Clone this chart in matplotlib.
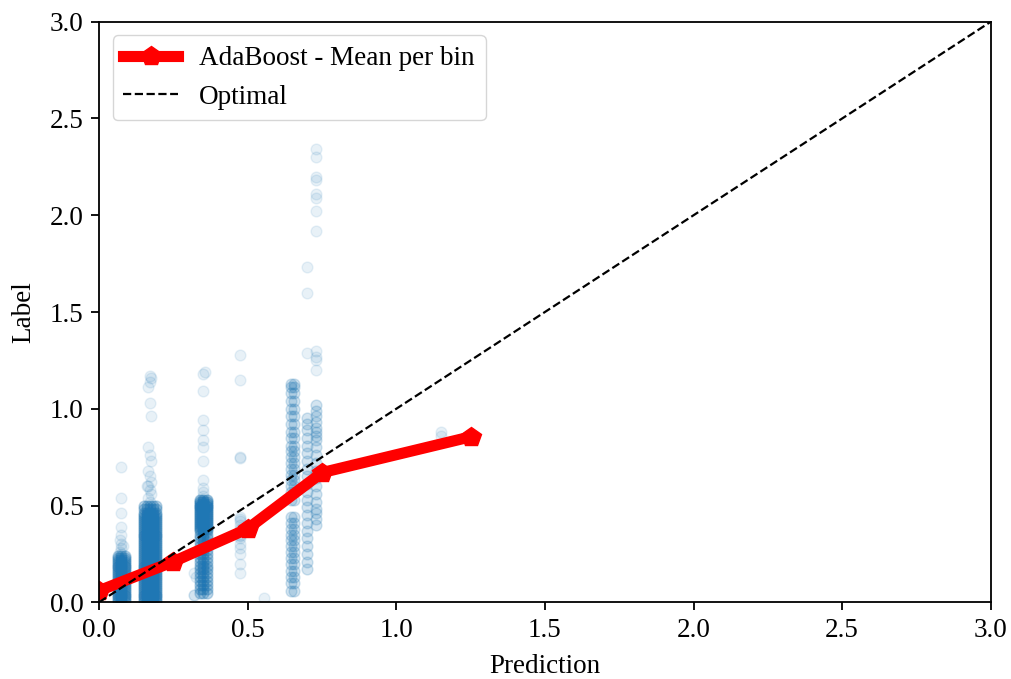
import numpy as np
import matplotlib
matplotlib.use("Agg")
import matplotlib.pyplot as plt

plt.rcParams['font.family'] = ['Liberation Serif', 'DejaVu Serif']

# ---- Data ----
# Mean per bin (red line)
bin_pred = [0.0, 0.25, 0.50, 0.75, 1.25]
bin_label = [0.06, 0.21, 0.38, 0.67, 0.855]

# Scatter columns: prediction values (x), label values (y), and how many
# samples share each (x, y) pair (rep)
col_a_x = [0.062, 0.075, 0.088]
col_a_y = [0.00, 0.01, 0.02, 0.03, 0.04, 0.05, 0.06, 0.07, 0.08, 0.09, 0.10,
           0.11, 0.12, 0.13, 0.14, 0.15, 0.16, 0.17, 0.18, 0.19, 0.20, 0.21,
           0.22, 0.23, 0.24]
col_a_rep = 3
col_a_sparse_x = [0.075, 0.07, 0.075, 0.08, 0.075, 0.07, 0.075, 0.075, 0.075, 0.075, 0.075]
col_a_sparse_y = [0.25, 0.26, 0.28, 0.29, 0.30, 0.32, 0.35, 0.39, 0.46, 0.54, 0.70]

col_b_x = [0.152, 0.162, 0.172, 0.182, 0.192]
col_b_y = [0.00, 0.01, 0.02, 0.03, 0.04, 0.05, 0.06, 0.07, 0.08, 0.09, 0.10,
           0.11, 0.12, 0.13, 0.14, 0.15, 0.16, 0.17, 0.18, 0.19, 0.20, 0.21,
           0.22, 0.23, 0.24, 0.25, 0.26, 0.27, 0.28, 0.29, 0.30, 0.31, 0.32,
           0.33, 0.34, 0.35, 0.36, 0.37, 0.38, 0.39, 0.40, 0.41, 0.42, 0.43,
           0.44, 0.45, 0.46, 0.48, 0.50]
col_b_rep = 3
col_b_sparse_x = [0.17, 0.165, 0.175, 0.17, 0.165, 0.175, 0.17, 0.165, 0.175,
                  0.17, 0.165, 0.175, 0.17, 0.165, 0.17, 0.175, 0.17, 0.16]
col_b_sparse_y = [0.52, 0.54, 0.56, 0.58, 0.60, 0.62, 0.65, 0.68, 0.73,
                  0.76, 0.80, 0.96, 1.03, 1.11, 1.14, 1.16, 1.17, 0.60]

col_c_x = [0.338, 0.35, 0.362]
col_c_y = [0.05, 0.07, 0.09, 0.11, 0.13, 0.15, 0.17, 0.19, 0.21, 0.23, 0.25,
           0.27, 0.29, 0.31, 0.33, 0.35, 0.37]
col_c_rep = 3
col_c_top_y = [0.38, 0.39, 0.40, 0.41, 0.42, 0.43, 0.44, 0.45, 0.46, 0.47,
               0.48, 0.49, 0.50, 0.51, 0.52, 0.53]
col_c_top_rep = 4
col_c_sparse_x = [0.35, 0.35, 0.35, 0.35, 0.35, 0.35, 0.35, 0.35, 0.35,
                  0.355, 0.32, 0.32, 0.325, 0.32, 0.35, 0.35]
col_c_sparse_y = [0.59, 0.63, 0.73, 0.80, 0.84, 0.89, 0.94, 1.09, 1.18,
                  1.19, 0.15, 0.04, 0.13, 0.04, 0.55, 0.57]

col_d_x = [0.475] * 18 + [0.555]
col_d_y = [0.15, 0.25, 0.28, 0.30, 0.33, 0.34, 0.35, 0.37, 0.38, 0.40, 0.42,
           0.43, 0.44, 0.745, 0.75, 1.15, 1.28, 0.20, 0.02]

col_e_x = [0.645, 0.655]
col_e_y = [0.06, 0.10, 0.13, 0.16, 0.20, 0.23, 0.26, 0.29, 0.32, 0.35, 0.38,
           0.41, 0.44, 0.53, 0.57, 0.60, 0.63, 0.66, 0.69, 0.72, 0.75, 0.78,
           0.81, 0.85, 0.88, 0.92, 0.96, 1.00, 1.04, 1.08, 1.11, 1.13]
col_e_rep = 2

col_f1_x = [0.70]
col_f1_y = [0.17, 0.21, 0.25, 0.29, 0.33, 0.37, 0.41, 0.45, 0.49, 0.53,
            0.57, 0.61, 0.65, 0.69, 0.73, 0.77, 0.81, 0.85, 0.89, 0.92, 0.95]
col_f1_rep = 2
col_f2_x = [0.73]
col_f2_y = [0.40, 0.43, 0.46, 0.48, 0.52, 0.56, 0.60, 0.64, 0.68, 0.72,
            0.76, 0.80, 0.84, 0.86, 0.88, 0.90, 0.93, 0.96, 0.99, 1.02]
col_f2_rep = 2
col_f_sparse_x = [0.70, 0.70, 0.70, 0.73, 0.73, 0.73, 0.73, 0.73, 0.73, 0.73,
                  0.73, 0.73, 0.73, 0.73, 0.73]
col_f_sparse_y = [1.29, 1.60, 1.73, 1.20, 1.25, 1.27, 1.30, 1.92, 2.02, 2.09,
                  2.11, 2.18, 2.20, 2.30, 2.34]

far_x = [1.15, 1.15]
far_y = [0.88, 0.86]

# ---- Build scatter table ----
def grid(xs, ys, rep=1):
    gx = np.repeat(np.asarray(xs, float), len(ys))
    gy = np.tile(np.asarray(ys, float), len(xs))
    return np.tile(gx, rep), np.tile(gy, rep)

def pts(xs, ys):
    return np.asarray(xs, float), np.asarray(ys, float)

parts = [grid(col_a_x, col_a_y, col_a_rep), pts(col_a_sparse_x, col_a_sparse_y),
         grid(col_b_x, col_b_y, col_b_rep), pts(col_b_sparse_x, col_b_sparse_y),
         grid(col_c_x, col_c_y, col_c_rep), grid(col_c_x, col_c_top_y, col_c_top_rep),
         pts(col_c_sparse_x, col_c_sparse_y),
         pts(col_d_x, col_d_y),
         grid(col_e_x, col_e_y, col_e_rep),
         grid(col_f1_x, col_f1_y, col_f1_rep), grid(col_f2_x, col_f2_y, col_f2_rep),
         pts(col_f_sparse_x, col_f_sparse_y),
         pts(far_x, far_y)]
sx = np.concatenate([p[0] for p in parts])
sy = np.concatenate([p[1] for p in parts])

# ---- Plot ----
fig = plt.figure(figsize=(10.11, 6.79), dpi=100)
ax = fig.add_axes([0.098, 0.113, 0.882, 0.855])

ax.scatter(sx, sy, s=60, color='#1f77b4', alpha=0.1)
ax.plot(bin_pred, bin_label, color='red', linewidth=8, marker='p',
        markersize=15, label='AdaBoost - Mean per bin')
ax.plot([0, 3], [0, 3], 'k--', linewidth=1.6, label='Optimal')

ax.set_xlim(0, 3)
ax.set_ylim(0, 3)
ticks = [0.0, 0.5, 1.0, 1.5, 2.0, 2.5, 3.0]
ax.set_xticks(ticks)
ax.set_yticks(ticks)
for sp in ax.spines.values():
    sp.set_linewidth(1.3)
ax.tick_params(labelsize=19.5, length=6, width=1.3, pad=5)
ax.set_xlabel('Prediction', fontsize=19.5, labelpad=8)
ax.set_ylabel('Label', fontsize=19.5, labelpad=10)
ax.legend(loc='upper left', fontsize=19.5)

fig.savefig('out.png', dpi=100)
